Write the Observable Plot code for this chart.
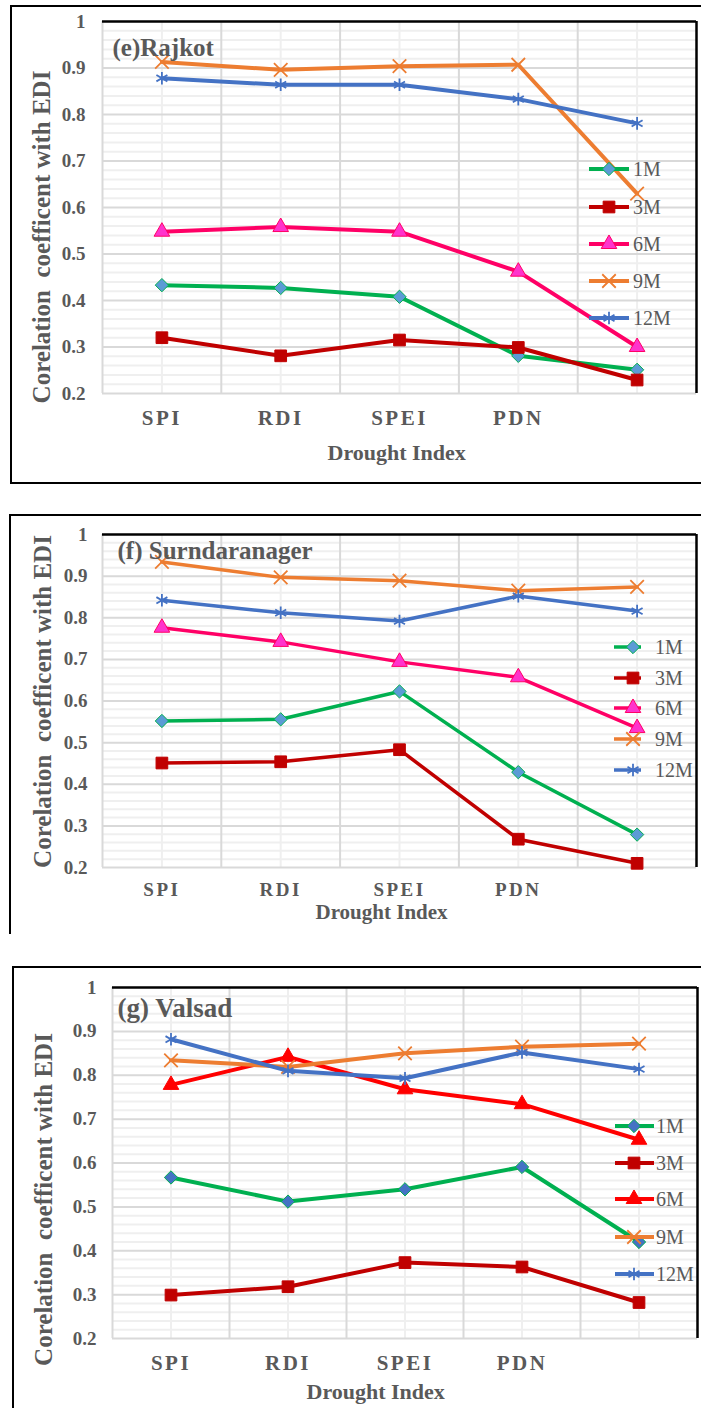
<!DOCTYPE html>
<html><head><meta charset="utf-8">
<script src="https://cdn.jsdelivr.net/npm/d3@7"></script>
<script src="https://cdn.jsdelivr.net/npm/@observablehq/plot@0.6"></script>
<style>
html,body{margin:0;padding:0;background:#fff;}
#page{position:relative;width:701px;height:1408px;overflow:hidden;background:#fff;font-family:"Liberation Serif","Times New Roman",serif;}
.frame{position:absolute;border-style:solid;border-color:#000;box-sizing:border-box;}
.chart{position:absolute;left:0;}
.legend{position:absolute;overflow:visible;}
g[aria-label="x-axis tick label"]{font-weight:bold;letter-spacing:2.5px;}
g[aria-label="y-axis tick label"]{font-size:19px;font-weight:bold;}
g[aria-label="ylabel"] text{white-space:pre;letter-spacing:1px;}
</style></head><body><div id="page"></div>
<script>
// ---- data ----
const categories = ["SPI", "RDI", "SPEI", "PDN", ""];
const seriesNames = ["1M", "3M", "6M", "9M", "12M"];
const yTicks = [0.2, 0.3, 0.4, 0.5, 0.6, 0.7, 0.8, 0.9, 1];
const xTitle = "Drought Index";
const yTitle = "Corelation  coefficent with EDI";

const rajkot1M  = [0.433, 0.427, 0.408, 0.281, 0.251];
const rajkot3M  = [0.320, 0.281, 0.315, 0.299, 0.229];
const rajkot6M  = [0.548, 0.558, 0.548, 0.462, 0.300];
const rajkot9M  = [0.913, 0.896, 0.904, 0.907, 0.630];
const rajkot12M = [0.878, 0.864, 0.864, 0.833, 0.781];

const surendra1M  = [0.552, 0.556, 0.623, 0.429, 0.279];
const surendra3M  = [0.451, 0.454, 0.483, 0.268, 0.210];
const surendra6M  = [0.776, 0.742, 0.694, 0.657, 0.535];
const surendra9M  = [0.934, 0.897, 0.889, 0.865, 0.874];
const surendra12M = [0.842, 0.812, 0.792, 0.852, 0.816];

const valsad1M  = [0.567, 0.512, 0.540, 0.591, 0.420];
const valsad3M  = [0.299, 0.318, 0.373, 0.363, 0.282];
const valsad6M  = [0.778, 0.842, 0.768, 0.734, 0.653];
const valsad9M  = [0.834, 0.819, 0.850, 0.865, 0.872];
const valsad12M = [0.882, 0.810, 0.793, 0.852, 0.814];

// ---- styles ----
const styleA = [
  {line: "#00B050", fill: "#5B9BD5", symbol: "diamond2", r: 6.0, filled: true},
  {line: "#C00000", fill: "#C00000", symbol: "square", r: 6.6, filled: true},
  {line: "#FF0066", fill: "#FF33CC", symbol: "triangle", r: 5.8, filled: true},
  {line: "#ED7D31", fill: "none", symbol: "times", r: 6.2, filled: false},
  {line: "#4472C4", fill: "none", symbol: "asterisk", r: 6.0, filled: false}
];
const styleB = [
  {line: "#00B050", fill: "#4472C4", symbol: "diamond2", r: 6.0, filled: true},
  {line: "#C00000", fill: "#C00000", symbol: "square", r: 6.6, filled: true},
  {line: "#FF0000", fill: "#FF0000", symbol: "triangle", r: 5.8, filled: true},
  {line: "#ED7D31", fill: "none", symbol: "times", r: 6.2, filled: false},
  {line: "#4472C4", fill: "none", symbol: "asterisk", r: 6.0, filled: false}
];

const panels = [
  {series: [rajkot1M, rajkot3M, rajkot6M, rajkot9M, rajkot12M], styles: styleA, lw: 4,
   title: "(e)Rajkot", top: 0, height: 483, mt: 21, mb: 90, ml: 102, mr: 5,
   frame: {left: 10, top: 5, height: 479, bottom: true},
   titleX: 112, titleMid: 47, titleW: 113, titleSize: 25,
   ylX: 41, ylMid: 236.5, ylLen: 347,
   xlX: 327, xlMid: 452.5, xlW: 145, xlSize: 22,
   xPad: 17, yPad: 17, xTickSize: 21,
   legend: {x0: 589, x1: 629, xm: 609, xt: 633, ys: [169, 207, 244, 281, 318]}},
  {series: [surendra1M, surendra3M, surendra6M, surendra9M, surendra12M], styles: styleA, lw: 3.5,
   title: "(f) Surndaranager", top: 505, height: 430, mt: 29, mb: 68, ml: 102, mr: 5,
   frame: {left: 9, top: 514, height: 420, bottom: false},
   titleX: 117, titleMid: 550.5, titleW: 222, titleSize: 25,
   ylX: 42, ylMid: 701, ylLen: 282,
   xlX: 315, xlMid: 911.5, xlW: 145, xlSize: 21,
   xPad: 15, yPad: 15, xTickSize: 19,
   legend: {x0: 614, x1: 641, xm: 633, xt: 655, ys: [647, 678, 708, 739, 770]}},
  {series: [valsad1M, valsad3M, valsad6M, valsad9M, valsad12M], styles: styleB, lw: 4,
   title: "(g) Valsad", top: 960, height: 448, mt: 27, mb: 70, ml: 112, mr: 4,
   frame: {left: 12, top: 966, height: 460, bottom: false},
   titleX: 117, titleMid: 1008, titleW: 122, titleSize: 27,
   ylX: 43, ylMid: 1199, ylLen: 342,
   xlX: 306, xlMid: 1391.5, xlW: 143, xlSize: 22,
   xPad: 17, yPad: 16, xTickSize: 21,
   legend: {x0: 615, x1: 654, xm: 634, xt: 656, ys: [1126, 1163, 1199, 1237, 1274]}}
];

const page = document.getElementById("page");
const grey = "#595959";
const serif = "'Liberation Serif','Times New Roman',serif";
const idx = d3.range(categories.length);
const edges = d3.range(-0.5, categories.length, 1);
const minorY = d3.range(0.22, 1, 0.02).filter(v => Math.abs(v * 10 - Math.round(v * 10)) > 1e-6);

for (const p of panels) {
  // frame
  const fr = document.createElement("div");
  fr.className = "frame";
  fr.style.left = p.frame.left + "px";
  fr.style.top = p.frame.top + "px";
  fr.style.width = (760 - p.frame.left) + "px";
  fr.style.height = p.frame.height + "px";
  fr.style.borderWidth = "2px 2px " + (p.frame.bottom ? "2px" : "0") + " 2px";
  page.appendChild(fr);

  const plotTop = p.top + p.mt;
  const plotBottom = p.top + p.height - p.mb;
  const plotMidY = (plotTop + plotBottom) / 2;

  const marks = [
    Plot.ruleY(minorY, {stroke: "#EFEFEF", strokeWidth: 2}),
    Plot.ruleX(idx, {stroke: "#EFEFEF", strokeWidth: 2}),
    Plot.ruleX(edges.slice(0, -1), {stroke: "#D9D9D9", strokeWidth: 2}),
    Plot.ruleY(yTicks.slice(0, -1), {stroke: "#D9D9D9", strokeWidth: 2}),
    Plot.ruleY([1], {stroke: "#000", strokeWidth: 2.5}),
    Plot.ruleX([edges[edges.length - 1]], {stroke: "#000", strokeWidth: 2.5}),
    Plot.axisY({ticks: yTicks, label: null, tickSize: 0, tickPadding: p.yPad, tickFormat: d => d === 1 ? "1" : d.toFixed(1), fill: grey}),
    Plot.axisX({ticks: idx, label: null, tickSize: 0, tickPadding: p.xPad, tickFormat: i => categories[i], fill: grey, fontSize: p.xTickSize})
  ];
  p.series.forEach((vals, s) => {
    const st = p.styles[s];
    const rows = vals.map((v, i) => ({x: i, y: v, series: seriesNames[s]}));
    marks.push(Plot.line(rows, {x: "x", y: "y", stroke: st.line, strokeWidth: p.lw, strokeLinejoin: "round", strokeLinecap: "round"}));
    marks.push(Plot.dot(rows, {x: "x", y: "y", symbol: () => st.symbol, r: st.r,
      fill: st.filled ? st.fill : "none", stroke: st.line, strokeWidth: st.filled ? 1 : 1.8}));
  });
  marks.push(Plot.text([p.title], {frameAnchor: "top-left", dx: p.titleX - p.ml, dy: p.titleMid - plotTop,
    lineAnchor: "middle", textAnchor: "start", fontSize: p.titleSize, fontWeight: "bold", fill: grey, ariaLabel: "title"}));
  marks.push(Plot.text([yTitle], {frameAnchor: "left", rotate: -90, dx: p.ylX - p.ml, dy: p.ylMid - plotMidY,
    lineAnchor: "middle", textAnchor: "middle", fontSize: 25, fontWeight: "bold", fill: grey, ariaLabel: "ylabel"}));
  marks.push(Plot.text([xTitle], {frameAnchor: "bottom-left", dx: p.xlX - p.ml, dy: p.xlMid - plotBottom,
    lineAnchor: "middle", textAnchor: "start", fontSize: p.xlSize, fontWeight: "bold", fill: grey, ariaLabel: "xlabel"}));

  const svg = Plot.plot({
    width: 701, height: p.height,
    marginTop: p.mt, marginBottom: p.mb, marginLeft: p.ml, marginRight: p.mr,
    style: {fontFamily: serif, color: grey, background: "transparent", overflow: "visible"},
    x: {type: "linear", domain: [-0.5, categories.length - 0.5], label: null},
    y: {domain: [0.2, 1], label: null},
    symbol: {type: "identity"},
    marks
  });
  svg.classList.add("chart");
  svg.style.top = p.top + "px";
  page.appendChild(svg);
  const sel = d3.select(svg);
  sel.select('g[aria-label="title"] text').attr("textLength", p.titleW).attr("lengthAdjust", "spacingAndGlyphs");
  sel.select('g[aria-label="ylabel"] text').attr("textLength", p.ylLen).attr("lengthAdjust", "spacingAndGlyphs");
  sel.select('g[aria-label="xlabel"] text').attr("textLength", p.xlW).attr("lengthAdjust", "spacingAndGlyphs");

  // legend
  const L = p.legend;
  const lg = d3.select(page).append("svg").attr("class", "legend")
    .style("left", "0px").style("top", p.top + "px")
    .attr("width", 701).attr("height", p.height)
    .style("pointer-events", "none");
  const symMap = {diamond2: d3.symbolDiamond2, square: d3.symbolSquare, triangle: d3.symbolTriangle, times: d3.symbolTimes, asterisk: d3.symbolAsterisk};
  seriesNames.forEach((name, s) => {
    const st = p.styles[s];
    const y = L.ys[s] - p.top;
    lg.append("line").attr("x1", L.x0).attr("x2", L.x1).attr("y1", y).attr("y2", y)
      .attr("stroke", st.line).attr("stroke-width", p.lw);
    lg.append("path").attr("transform", `translate(${L.xm},${y})`)
      .attr("d", d3.symbol(symMap[st.symbol], Math.PI * st.r * st.r)())
      .attr("fill", st.filled ? st.fill : "none").attr("stroke", st.line).attr("stroke-width", st.filled ? 1 : 1.8);
    lg.append("text").attr("x", L.xt).attr("y", y).attr("dy", "0.35em")
      .style("font-size", "20px").style("fill", grey)
      .style("font-family", serif).text(name);
  });
}
</script></body></html>
